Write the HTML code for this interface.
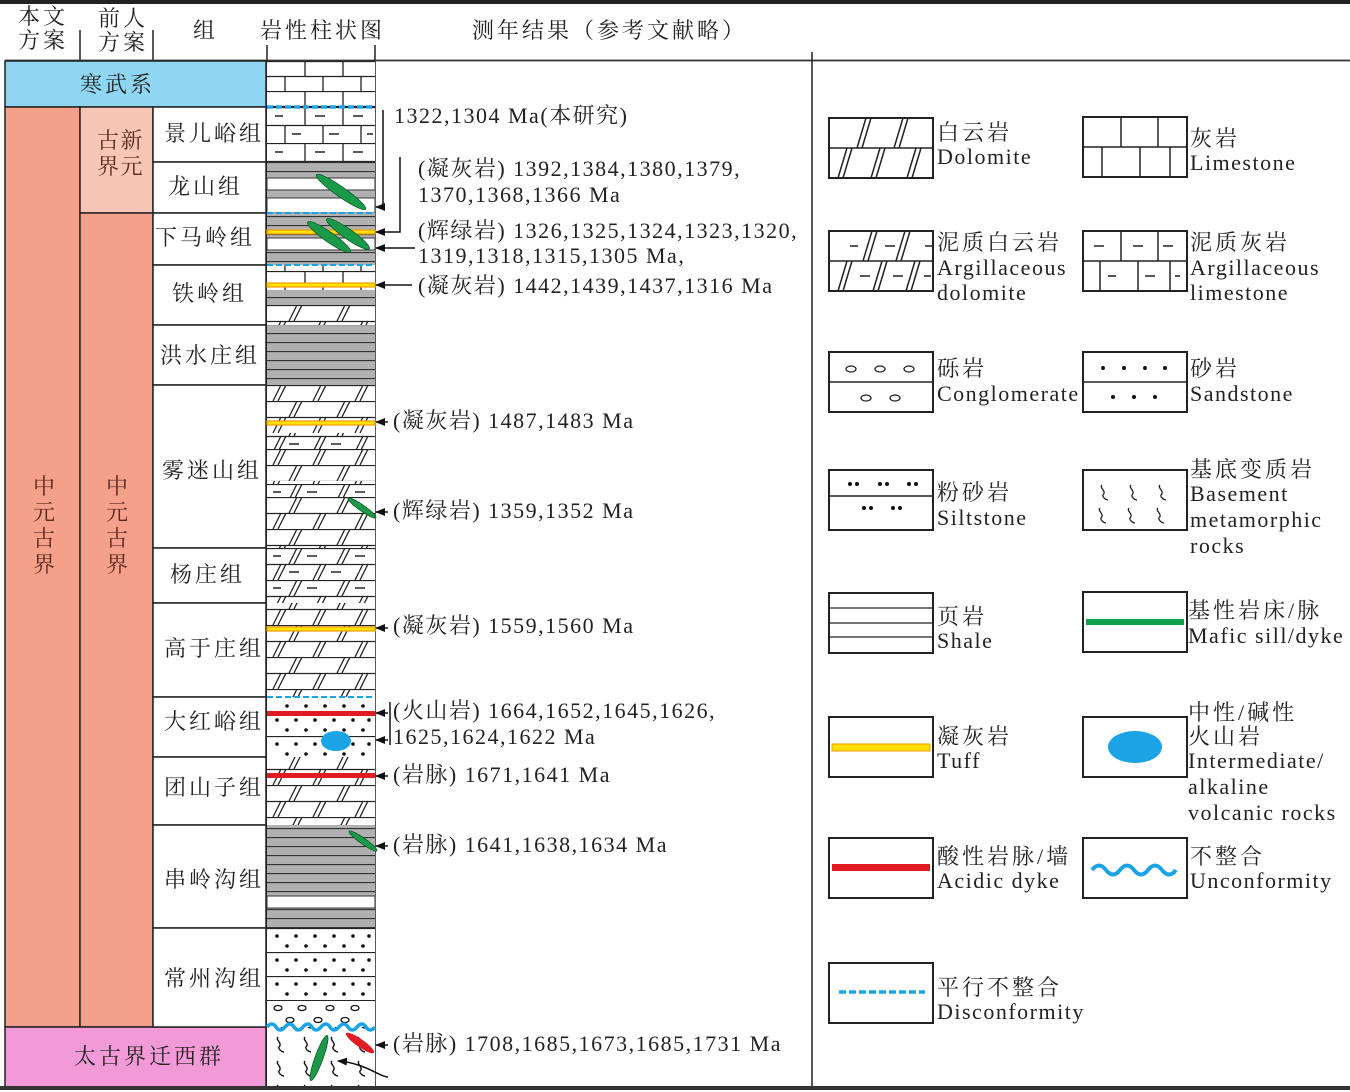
<!DOCTYPE html>
<html><head><meta charset="utf-8">
<style>
html,body{margin:0;padding:0;background:#fff;}
svg{display:block;}
text{font-family:"Liberation Serif","Noto Serif CJK SC",serif;fill:#222;}
.t{font-size:22px;letter-spacing:1.5px;}
.c{letter-spacing:3px;}
.h{font-size:22px;letter-spacing:3px;}
</style></head><body>
<svg width="1350" height="1092" viewBox="0 0 1350 1092" xmlns="http://www.w3.org/2000/svg">
<defs>
<pattern id="lime" patternUnits="userSpaceOnUse" x="267" y="61" width="108" height="30">
<rect width="108" height="30" fill="#fff"/>
<path d="M0 0.5H108M0 15.5H108M38 0V15M76 0V15M18 15V30M56 15V30M94 15V30" stroke="#222" stroke-width="1.3" fill="none"/>
</pattern>
<pattern id="alime" patternUnits="userSpaceOnUse" x="267" y="107" width="108" height="36">
<rect width="108" height="36" fill="#fff"/>
<path d="M0 0.5H108M0 18.5H108M38 0V18M76 0V18M18 18V36M56 18V36M94 18V36" stroke="#222" stroke-width="1.3" fill="none"/>
<path d="M8 9H16M48 9H58M86 9H96M25 27H34M62 27H72M100 27H106" stroke="#222" stroke-width="1.5"/>
</pattern>
<pattern id="dolo" patternUnits="userSpaceOnUse" x="267" y="305" width="108" height="32">
<rect width="108" height="32" fill="#fff"/>
<path d="M0 0.5H108M0 16.5H108" stroke="#222" stroke-width="1.3"/>
<path d="M22 16L30 0M27 16L35 0M70 16L78 0M75 16L83 0M6 32L14 16M11 32L19 16M46 32L54 16M51 32L59 16M88 32L96 16M93 32L101 16" stroke="#222" stroke-width="1.3"/>
</pattern>
<pattern id="adolo" patternUnits="userSpaceOnUse" x="267" y="548" width="108" height="32">
<rect width="108" height="32" fill="#fff"/>
<path d="M0 0.5H108M0 16.5H108" stroke="#222" stroke-width="1.3"/>
<path d="M22 16L30 0M27 16L35 0M70 16L78 0M75 16L83 0M6 32L14 16M11 32L19 16M46 32L54 16M51 32L59 16M88 32L96 16M93 32L101 16" stroke="#222" stroke-width="1.3"/>
<path d="M6 8H14M40 8H50M88 8H98M22 24H32M64 24H74" stroke="#222" stroke-width="1.5"/>
</pattern>
<pattern id="shale" patternUnits="userSpaceOnUse" x="267" y="0" width="108" height="9">
<rect width="108" height="9" fill="#b0b0b0"/>
<path d="M0 0.5H108" stroke="#333" stroke-width="1.2"/>
</pattern>
<pattern id="sand" patternUnits="userSpaceOnUse" x="267" y="928" width="108" height="24">
<rect width="108" height="24" fill="#fff"/>
<path d="M0 0.5H108" stroke="#222" stroke-width="1.2"/>
<circle cx="10" cy="8" r="1.8" fill="#111"/><circle cx="29" cy="8" r="1.8" fill="#111"/><circle cx="48" cy="8" r="1.8" fill="#111"/><circle cx="67" cy="8" r="1.8" fill="#111"/><circle cx="86" cy="8" r="1.8" fill="#111"/><circle cx="102" cy="8" r="1.8" fill="#111"/>
<circle cx="20" cy="18" r="1.8" fill="#111"/><circle cx="39" cy="18" r="1.8" fill="#111"/><circle cx="58" cy="18" r="1.8" fill="#111"/><circle cx="77" cy="18" r="1.8" fill="#111"/><circle cx="96" cy="18" r="1.8" fill="#111"/>
</pattern>
<pattern id="base" patternUnits="userSpaceOnUse" x="270" y="1034" width="27" height="24">
<rect width="27" height="24" fill="#fff"/>
<path d="M8 3c-3 3 5 6 1 10c-1 2 3 5 5 5" stroke="#111" stroke-width="1.4" fill="none"/>
</pattern>
<marker id="ar" markerWidth="10" markerHeight="8" refX="9" refY="4" orient="auto" markerUnits="userSpaceOnUse">
<path d="M0 0L10 4L0 8Z" fill="#111"/>
</marker>
</defs>

<rect x="0" y="0" width="1350" height="4" fill="#222"/>
<text class="h" x="18" y="24">本文</text><text class="h" x="18" y="48">方案</text>
<text class="h" x="98" y="26">前人</text><text class="h" x="98" y="50">方案</text>
<path d="M80 30V60M153 30V60" stroke="#222" stroke-width="1.5"/>
<text class="h" x="193" y="38">组</text>
<text class="h" x="260" y="38">岩性柱状图</text>
<text class="h" x="472" y="38">测年结果（参考文献略）</text>
<path d="M267 45V1088M375 45V1088" stroke="#222" stroke-width="1.5"/>
<path d="M5 60.5H1350" stroke="#333" stroke-width="1.8"/>
<path d="M812 52V1088" stroke="#222" stroke-width="1.5"/>

<rect x="5" y="61" width="261" height="46" fill="#8fd6f3" stroke="#222" stroke-width="1.5"/>
<text class="t c" x="80" y="92">寒武系</text>
<rect x="5" y="107" width="75" height="920" fill="#f4a08a" stroke="#222" stroke-width="1.5"/>
<rect x="80" y="107" width="73" height="106" fill="#f8c6b4" stroke="#222" stroke-width="1.5"/>
<rect x="80" y="213" width="73" height="814" fill="#f4a08a" stroke="#222" stroke-width="1.5"/>
<text class="t" x="33" y="494" style="fill:#5a2a20">中</text><text class="t" x="33" y="520" style="fill:#5a2a20">元</text><text class="t" x="33" y="546" style="fill:#5a2a20">古</text><text class="t" x="33" y="572" style="fill:#5a2a20">界</text>
<text class="t" x="106" y="494" style="fill:#5a2a20">中</text><text class="t" x="106" y="520" style="fill:#5a2a20">元</text><text class="t" x="106" y="546" style="fill:#5a2a20">古</text><text class="t" x="106" y="572" style="fill:#5a2a20">界</text>
<text class="t" x="97" y="148" style="fill:#5a2a20">古新</text><text class="t" x="97" y="174" style="fill:#5a2a20">界元</text>
<rect x="5" y="1027" width="261" height="60" fill="#f29ad8" stroke="#222" stroke-width="1.5"/>
<text class="t c" x="74" y="1064">太古界迁西群</text>

<g fill="#fff" stroke="#222" stroke-width="1.5">
<rect x="153" y="107" width="113" height="55"/><rect x="153" y="162" width="113" height="51"/>
<rect x="153" y="213" width="113" height="52"/><rect x="153" y="265" width="113" height="60"/>
<rect x="153" y="325" width="113" height="60"/><rect x="153" y="385" width="113" height="163"/>
<rect x="153" y="548" width="113" height="55"/><rect x="153" y="603" width="113" height="94"/>
<rect x="153" y="697" width="113" height="60"/><rect x="153" y="757" width="113" height="68"/>
<rect x="153" y="825" width="113" height="103"/><rect x="153" y="928" width="113" height="99"/>
</g>
<text class="t c" x="164" y="141">景儿峪组</text>
<text class="t c" x="168" y="194">龙山组</text>
<text class="t c" x="155" y="245">下马岭组</text>
<text class="t c" x="172" y="301">铁岭组</text>
<text class="t c" x="160" y="363">洪水庄组</text>
<text class="t c" x="162" y="478">雾迷山组</text>
<text class="t c" x="170" y="582">杨庄组</text>
<text class="t c" x="164" y="656">高于庄组</text>
<text class="t c" x="164" y="729">大红峪组</text>
<text class="t c" x="164" y="795">团山子组</text>
<text class="t c" x="164" y="887">串岭沟组</text>
<text class="t c" x="164" y="986">常州沟组</text>

<g>
<rect x="267" y="61" width="108" height="46" fill="url(#lime)"/>
<rect x="267" y="107" width="108" height="55" fill="url(#alime)"/>
<rect x="267" y="162" width="108" height="51" fill="url(#shale)"/>
<rect x="267" y="178" width="108" height="12" fill="#fff" stroke="#333"/>
<rect x="267" y="198" width="108" height="15" fill="#fff" stroke="#333"/>
<rect x="267" y="213" width="108" height="52" fill="url(#shale)"/>
<rect x="267" y="238" width="108" height="12" fill="#fff" stroke="#333"/>
<rect x="267" y="265" width="108" height="25" fill="url(#lime)"/>
<rect x="267" y="290" width="108" height="15" fill="url(#shale)"/>
<rect x="267" y="305" width="108" height="20" fill="url(#dolo)"/>
<rect x="267" y="325" width="108" height="60" fill="url(#shale)"/>
<rect x="267" y="385" width="108" height="163" fill="url(#dolo)"/>
<rect x="267" y="433" width="108" height="16" fill="url(#adolo)"/>
<rect x="267" y="481" width="108" height="16" fill="url(#adolo)"/>
<rect x="267" y="548" width="108" height="55" fill="url(#adolo)"/>
<rect x="267" y="603" width="108" height="94" fill="url(#dolo)"/>
<rect x="267" y="697" width="108" height="60" fill="url(#sand)"/>
<rect x="267" y="757" width="108" height="68" fill="url(#dolo)"/>
<rect x="267" y="825" width="108" height="103" fill="url(#shale)"/>
<rect x="267" y="896" width="108" height="12" fill="#fff" stroke="#333"/>
<rect x="267" y="928" width="108" height="72" fill="url(#sand)"/>
<rect x="267" y="1000" width="108" height="27" fill="#fff"/>
<path d="M267 1000.5H375" stroke="#222"/>
<g fill="none" stroke="#111" stroke-width="1.3">
<ellipse cx="278" cy="1008" rx="4" ry="2.5"/><ellipse cx="302" cy="1008" rx="4" ry="2.5"/><ellipse cx="330" cy="1008" rx="4" ry="2.5"/><ellipse cx="355" cy="1008" rx="4" ry="2.5"/>
<ellipse cx="290" cy="1020" rx="4" ry="2.5"/><ellipse cx="318" cy="1020" rx="4" ry="2.5"/><ellipse cx="345" cy="1020" rx="4" ry="2.5"/>
</g>
<rect x="267" y="1027" width="108" height="60" fill="url(#base)"/>
<path d="M267 1027q5 -6 9 0t9 0t9 0t9 0t9 0t9 0t9 0t9 0t9 0t9 0t9 0t9 0" stroke="#1aa3e6" stroke-width="3.5" fill="none"/>
</g>
<g stroke="#1aa3e6" stroke-dasharray="6,3">
<path d="M267 107H375" stroke-width="3.5"/>
<path d="M267 213H375" stroke-width="2"/>
<path d="M267 265H375" stroke-width="2"/>
<path d="M267 697H375" stroke-width="2"/>
</g>
<g fill="#ffe000" stroke="#f29a00" stroke-width="1.2">
<rect x="267" y="230" width="108" height="4"/>
<rect x="267" y="283" width="108" height="4"/>
<rect x="267" y="421" width="108" height="4"/>
<rect x="267" y="627" width="108" height="4"/>
</g>
<rect x="267" y="711" width="108" height="5" fill="#e11b22"/>
<rect x="267" y="773" width="108" height="5" fill="#e11b22"/>
<ellipse cx="336" cy="741" rx="15" ry="10" fill="#1aa3e6"/>
<g fill="#1a9a48" stroke="#0d5a25" stroke-width="0.8">
<ellipse cx="341" cy="192" rx="30" ry="5" transform="rotate(35 341 192)"/>
<ellipse cx="329" cy="237" rx="26" ry="5" transform="rotate(35 329 237)"/>
<ellipse cx="348" cy="234" rx="26" ry="5" transform="rotate(35 348 234)"/>
<ellipse cx="362" cy="508" rx="17" ry="3" transform="rotate(35 362 508)"/>
<ellipse cx="363" cy="841" rx="17" ry="3" transform="rotate(35 363 841)"/>
<ellipse cx="319" cy="1058" rx="24" ry="4" transform="rotate(-70 319 1058)"/>
</g>
<ellipse cx="360" cy="1043" rx="17" ry="4" fill="#e11b22" transform="rotate(35 360 1043)"/>

<g stroke="#111" stroke-width="1.5" fill="none">
<path d="M383 110V207H376" marker-end="url(#ar)"/>
<path d="M400 157V232H376" marker-end="url(#ar)"/>
<path d="M415 248H376" marker-end="url(#ar)"/>
<path d="M412 285H376" marker-end="url(#ar)"/>
<path d="M388 422H376" marker-end="url(#ar)"/>
<path d="M388 512H376" marker-end="url(#ar)"/>
<path d="M388 628H376" marker-end="url(#ar)"/>
<path d="M388 713H376" marker-end="url(#ar)"/>
<path d="M388 740H376" marker-end="url(#ar)"/>
<path d="M390 702V745"/>
<path d="M388 776H376" marker-end="url(#ar)"/>
<path d="M388 846H376" marker-end="url(#ar)"/>
<path d="M388 1045H376" marker-end="url(#ar)"/>
<path d="M388 1077C380 1077 365 1063 338 1061" marker-end="url(#ar)"/>
</g>
<text class="t" x="394" y="123">1322,1304 Ma(本研究)</text>
<text class="t" x="418" y="176">(凝灰岩) 1392,1384,1380,1379,</text>
<text class="t" x="418" y="202">1370,1368,1366 Ma</text>
<text class="t" x="418" y="238">(辉绿岩) 1326,1325,1324,1323,1320,</text>
<text class="t" x="418" y="263">1319,1318,1315,1305 Ma,</text>
<text class="t" x="418" y="293">(凝灰岩) 1442,1439,1437,1316 Ma</text>
<text class="t" x="393" y="428">(凝灰岩) 1487,1483 Ma</text>
<text class="t" x="393" y="518">(辉绿岩) 1359,1352 Ma</text>
<text class="t" x="393" y="633">(凝灰岩) 1559,1560 Ma</text>
<text class="t" x="393" y="718">(火山岩) 1664,1652,1645,1626,</text>
<text class="t" x="393" y="744">1625,1624,1622 Ma</text>
<text class="t" x="393" y="782">(岩脉) 1671,1641 Ma</text>
<text class="t" x="393" y="852">(岩脉) 1641,1638,1634 Ma</text>
<text class="t" x="393" y="1051">(岩脉) 1708,1685,1673,1685,1731 Ma</text>

<g fill="#fff" stroke="#222" stroke-width="2">
<rect x="829" y="118" width="104" height="60"/><rect x="1083" y="117" width="104" height="60"/>
<rect x="829" y="231" width="104" height="60"/><rect x="1083" y="231" width="104" height="60"/>
<rect x="829" y="352" width="104" height="60"/><rect x="1083" y="352" width="104" height="60"/>
<rect x="829" y="470" width="104" height="60"/><rect x="1083" y="470" width="104" height="60"/>
<rect x="829" y="593" width="104" height="60"/><rect x="1083" y="592" width="104" height="60"/>
<rect x="829" y="717" width="104" height="60"/><rect x="1083" y="717" width="104" height="60"/>
<rect x="829" y="838" width="104" height="60"/><rect x="1083" y="838" width="104" height="60"/>
<rect x="829" y="963" width="104" height="60"/>
</g>
<g stroke="#222" stroke-width="1.5" fill="none">
<path d="M829 148H933M1083 147H1187M829 261H933M1083 261H1187M829 382H933M1083 382H1187M829 496H933"/>
<path d="M866 118L857 148M871 118L862 148M903 118L894 148M908 118L899 148M847 148L838 178M852 148L843 178M880 148L871 178M885 148L876 178M916 148L907 178M921 148L912 178"/>
<path d="M1121 117V147M1158 117V147M1102 147V177M1140 147V177M1170 147V177"/>
<path d="M872 231L863 261M877 231L868 261M905 231L896 261M910 231L901 261M847 261L838 291M852 261L843 291M882 261L873 291M887 261L878 291M915 261L906 291M920 261L911 291"/>
<path d="M850 246H858M885 246H895M925 246H932M860 276H870M893 276H903M924 276H931"/>
<path d="M1121 231V261M1158 231V261M1100 261V291M1138 261V291M1170 261V291M1094 246H1104M1133 246H1143M1163 246H1173M1108 276H1116M1145 276H1155M1175 276H1180"/>
<path d="M829 608H933M829 623H933M829 637H933" stroke-width="1.2"/>
</g>
<g fill="none" stroke="#222" stroke-width="1.3">
<ellipse cx="851" cy="369" rx="5" ry="3"/><ellipse cx="880" cy="369" rx="5" ry="3"/><ellipse cx="909" cy="369" rx="5" ry="3"/>
<ellipse cx="866" cy="398" rx="5" ry="3"/><ellipse cx="895" cy="398" rx="5" ry="3"/>
</g>
<g fill="#111">
<circle cx="1103" cy="368" r="2"/><circle cx="1124" cy="368" r="2"/><circle cx="1145" cy="368" r="2"/><circle cx="1165" cy="368" r="2"/>
<circle cx="1113" cy="397" r="2"/><circle cx="1134" cy="397" r="2"/><circle cx="1155" cy="397" r="2"/>
<circle cx="850" cy="484" r="2"/><circle cx="857" cy="484" r="2"/><circle cx="880" cy="484" r="2"/><circle cx="887" cy="484" r="2"/><circle cx="909" cy="484" r="2"/><circle cx="916" cy="484" r="2"/>
<circle cx="864" cy="508" r="2"/><circle cx="871" cy="508" r="2"/><circle cx="893" cy="508" r="2"/><circle cx="900" cy="508" r="2"/>
</g>
<g stroke="#222" stroke-width="1.3" fill="none">
<path d="M1102 485c-3 3 5 6 1 10c-1 2 3 5 5 5M1131 485c-3 3 5 6 1 10c-1 2 3 5 5 5M1160 485c-3 3 5 6 1 10c-1 2 3 5 5 5M1100 508c-3 3 5 6 1 10c-1 2 3 5 5 5M1129 508c-3 3 5 6 1 10c-1 2 3 5 5 5M1158 508c-3 3 5 6 1 10c-1 2 3 5 5 5"/>
</g>
<rect x="1086" y="619" width="98" height="6" fill="#13a04a"/>
<rect x="832" y="744" width="98" height="7" fill="#ffe000" stroke="#f29a00" stroke-width="1"/>
<ellipse cx="1135" cy="747" rx="27" ry="16" fill="#1aa3e6"/>
<rect x="832" y="864" width="98" height="7" fill="#e11b22"/>
<path d="M1092 870q7 -9 14 0t14 0t14 0t14 0t14 0t14 0" stroke="#1aa3e6" stroke-width="4" fill="none"/>
<path d="M839 992H925" stroke="#1aa3e6" stroke-width="3.5" stroke-dasharray="7,3"/>

<text class="t c" x="937" y="140">白云岩</text><text class="t" x="937" y="164">Dolomite</text>
<text class="t c" x="1190" y="146">灰岩</text><text class="t" x="1190" y="170">Limestone</text>
<text class="t c" x="937" y="250">泥质白云岩</text><text class="t" x="937" y="275">Argillaceous</text><text class="t" x="937" y="300">dolomite</text>
<text class="t c" x="1190" y="250">泥质灰岩</text><text class="t" x="1190" y="275">Argillaceous</text><text class="t" x="1190" y="300">limestone</text>
<text class="t c" x="937" y="376">砾岩</text><text class="t" x="937" y="401">Conglomerate</text>
<text class="t c" x="1190" y="376">砂岩</text><text class="t" x="1190" y="401">Sandstone</text>
<text class="t c" x="937" y="500">粉砂岩</text><text class="t" x="937" y="525">Siltstone</text>
<text class="t c" x="1190" y="477">基底变质岩</text><text class="t" x="1190" y="501">Basement</text><text class="t" x="1190" y="527">metamorphic</text><text class="t" x="1190" y="553">rocks</text>
<text class="t c" x="937" y="624">页岩</text><text class="t" x="937" y="648">Shale</text>
<text class="t c" x="1188" y="618">基性岩床/脉</text><text class="t" x="1188" y="643">Mafic sill/dyke</text>
<text class="t c" x="937" y="744">凝灰岩</text><text class="t" x="937" y="768">Tuff</text>
<text class="t c" x="1188" y="720">中性/碱性</text><text class="t c" x="1188" y="744">火山岩</text><text class="t" x="1188" y="768">Intermediate/</text><text class="t" x="1188" y="794">alkaline</text><text class="t" x="1188" y="820">volcanic rocks</text>
<text class="t c" x="937" y="864">酸性岩脉/墙</text><text class="t" x="937" y="888">Acidic dyke</text>
<text class="t c" x="1190" y="864">不整合</text><text class="t" x="1190" y="888">Unconformity</text>
<text class="t c" x="937" y="995">平行不整合</text><text class="t" x="937" y="1019">Disconformity</text>

<rect x="0" y="1086" width="1350" height="4" fill="#333"/>
</svg>
</body></html>
